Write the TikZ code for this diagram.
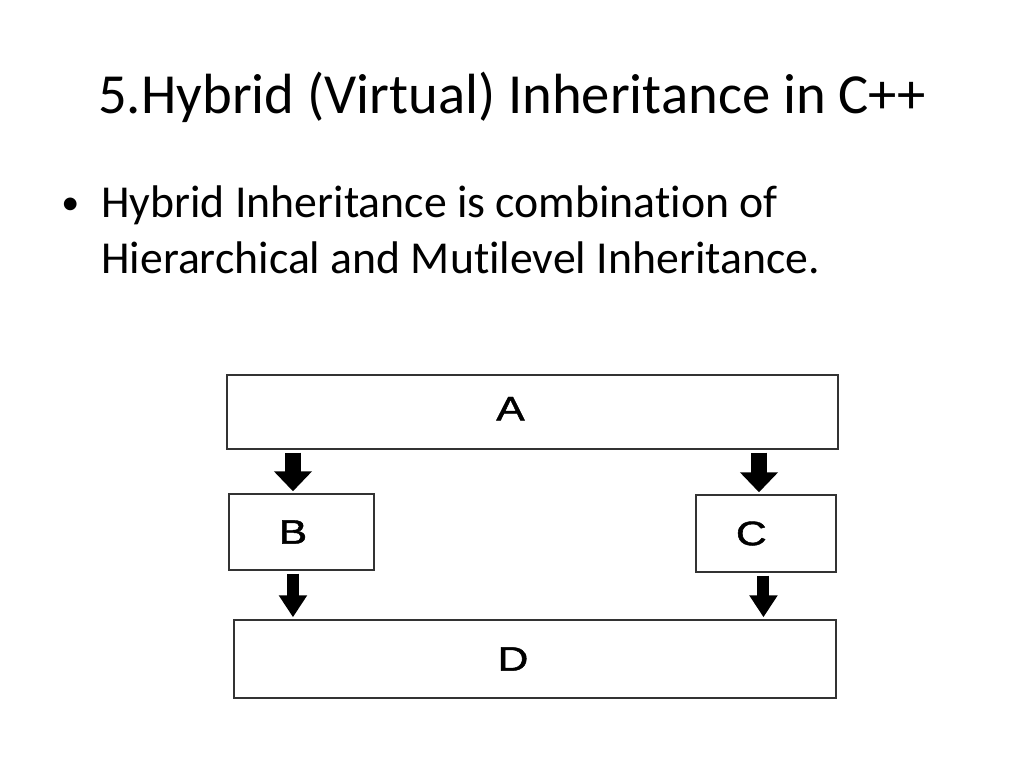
\documentclass[tikz,border=0pt]{standalone}
\usepackage{fontspec}
\setmainfont{Carlito}[RawFeature=-liga]
\newfontfamily\boxfont{Liberation Sans}[RawFeature={embolden=1.3}]
\usepackage{tikz}
\usetikzlibrary{arrows.meta,positioning,calc}
\newcommand{\wide}[1]{\scalebox{1.25}[1]{#1}}

\begin{document}
\begin{tikzpicture}[x=0.75pt,y=-0.75pt]
	\fill[white] (0,0) rectangle (1024,768);
	\useasboundingbox (0,0) rectangle (1024,768);

	\node[anchor=base west,inner sep=0pt,font=\fontsize{42.5}{50}\selectfont] (title) at (98,113) {5.Hybrid (Virtual) Inheritance in C++};
	\node[anchor=base west,inner sep=0pt,font=\fontsize{27}{42}\selectfont] (dot) at (61,214) {\textbullet};
	\node[anchor=base west,inner sep=0pt,align=left,font=\fontsize{34.3}{42}\selectfont] (text) at (101,273) {Hybrid Inheritance is combination of\\Hierarchical and Mutilevel Inheritance.};

	\begin{scope}[every node/.style={rectangle,draw=black!80,line width=1.1pt,inner sep=0pt,font=\boxfont\fontsize{25.5}{28}\selectfont}]
		\node[minimum width=458.25pt,minimum height=55.5pt,label={[xshift=-16.5pt,yshift=2.5pt]center:\wide{A}}] (A) at (532.5,412) {};
		\node[minimum width=108.75pt,minimum height=57pt,label={[xshift=-6.4pt]center:\wide{B}}] (B) at (301.5,532) {};
		\node[minimum width=105pt,minimum height=57.75pt,label={[xshift=-11pt]center:\wide{C}}] (C) at (766,533.5) {};
		\node[minimum width=451.5pt,minimum height=58.5pt,label={[xshift=-16.5pt]center:\wide{D}}] (D) at (535,659) {};
	\end{scope}

	\begin{scope}
	\draw[line width=12pt,-{Triangle[width=27.75pt,length=15pt]}] ([xshift=-6.4pt,yshift=-2.2pt]B.north |- A.south) -- ([xshift=-6.4pt,yshift=1.5pt]B.north);
	\draw[line width=12pt,-{Triangle[width=27.75pt,length=15pt]}] ([xshift=-5.25pt,yshift=-2.2pt]C.north |- A.south) -- ([xshift=-5.25pt,yshift=1.5pt]C.north);
	\draw[line width=9pt,-{Triangle[width=20.25pt,length=16.5pt]}] ([xshift=-6.4pt,yshift=-2.2pt]B.south) -- ([xshift=-6.4pt,yshift=1.5pt]B.south |- D.north);
	\draw[line width=9pt,-{Triangle[width=20.25pt,length=16.5pt]}] ([xshift=-1.9pt,yshift=-2.2pt]C.south) -- ([xshift=-1.9pt,yshift=1.5pt]C.south |- D.north);
	\end{scope}
\end{tikzpicture}
\end{document}
